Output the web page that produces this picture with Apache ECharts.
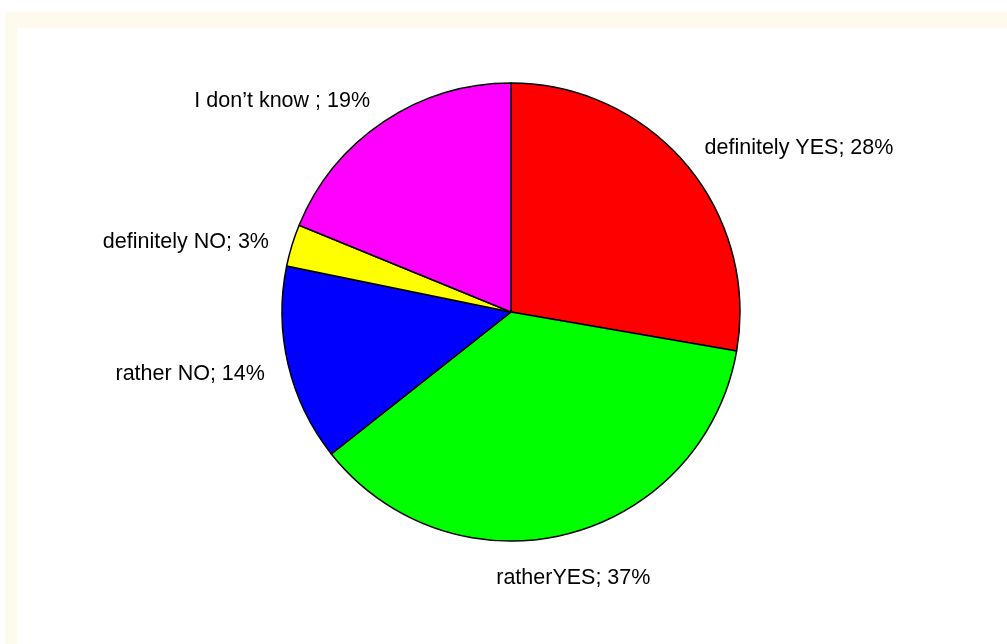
<!DOCTYPE html>
<html>
<head>
<meta charset="utf-8">
<script src="https://cdn.jsdelivr.net/npm/echarts@6/dist/echarts.min.js"></script>
<style>
  html, body { margin: 0; padding: 0; background: #ffffff; }
  #frame {
    position: absolute; left: 5px; top: 12px; width: 1010px; height: 640px;
    border-top: 16px solid #fffaee; border-left: 12px solid #fffaee;
    box-sizing: border-box;
  }
  #chart { position: absolute; left: 0; top: 0; width: 1007px; height: 644px; }
</style>
</head>
<body>
<div id="frame"></div>
<div id="chart"></div>
<script>
// Survey answers, clockwise from 12 o'clock
const categories = ['definitely YES', 'ratherYES', 'rather NO', 'definitely NO', 'I don\u2019t know '];
const shares = [28, 37, 14, 3, 19];
const sliceColors = ['#ff0000', '#00ff00', '#0000ff', '#ffff00', '#ff00ff'];

const CENTER = [511, 312];
const RADIUS = 229;
const LABEL_GAP = 24;

const total = shares.reduce((a, b) => a + b, 0);
// mid angle of each slice, measured clockwise from the top
const midAngles = [];
let acc = 0;
shares.forEach(v => {
  midAngles.push((acc + v / 2) / total * 2 * Math.PI);
  acc += v;
});

const chart = echarts.init(document.getElementById('chart'), null, { renderer: 'canvas' });
chart.setOption({
  animation: false,
  backgroundColor: 'transparent',
  series: [{
    type: 'pie',
    center: CENTER,
    radius: RADIUS,
    startAngle: 90,
    clockwise: true,
    avoidLabelOverlap: false,
    data: categories.map((name, i) => ({
      name: name,
      value: shares[i],
      itemStyle: { color: sliceColors[i] }
    })),
    itemStyle: { borderColor: '#000000', borderWidth: 1.5 },
    emphasis: { disabled: true },
    label: {
      show: true,
      position: 'outside',
      formatter: '{b}; {c}%',
      color: '#000000',
      fontFamily: '"Liberation Sans", Arial, sans-serif',
      fontSize: 21.5
    },
    labelLine: { show: false },
    labelLayout: function (params) {
      const a = midAngles[params.dataIndex];
      const s = Math.sin(a), c = Math.cos(a);
      const r = RADIUS + LABEL_GAP;
      const vMiddle = Math.abs(c) < 0.3;
      return {
        x: CENTER[0] + s * r,
        y: CENTER[1] - c * r + (vMiddle ? 4 : 10),
        align: Math.abs(s) < 0.3 ? 'center' : (s > 0 ? 'left' : 'right'),
        verticalAlign: vMiddle ? 'middle' : (c > 0 ? 'bottom' : 'top')
      };
    }
  }]
});
</script>
</body>
</html>
